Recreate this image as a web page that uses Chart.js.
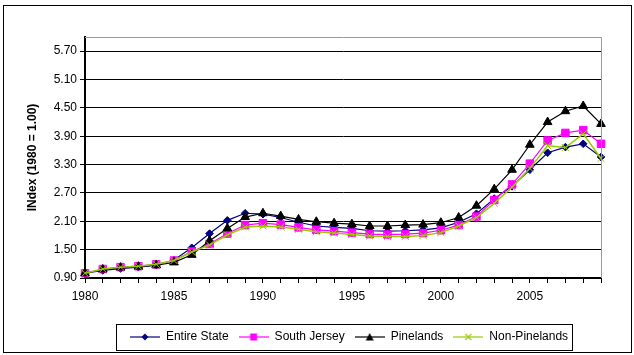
<!DOCTYPE html>
<html>
<head>
<meta charset="utf-8">
<script src="https://cdn.jsdelivr.net/npm/chart.js@4.4.1/dist/chart.umd.min.js"></script>
<style>
  html, body { margin: 0; padding: 0; background: #fff; }
  #wrap { position: relative; width: 634px; height: 355px; }
  #frame { position: absolute; left: 3px; top: 5px; width: 627px; height: 346px;
           border: 1px solid #000; pointer-events: none; }
</style>
</head>
<body>
<div id="wrap">
  <canvas id="c"></canvas>
  <div id="frame"></div>
</div>
<script>
/* NJ index chart, 1980 = 1.00 — four regions, Excel-style look */
var YEARS = [1980,1981,1982,1983,1984,1985,1986,1987,1988,1989,1990,1991,1992,1993,1994,
             1995,1996,1997,1998,1999,2000,2001,2002,2003,2004,2005,2006,2007,2008,2009];
var ENTIRE_STATE = [1.00,1.06,1.10,1.13,1.17,1.28,1.54,1.84,2.12,2.27,2.25,2.18,2.08,2.00,1.97,
                    1.95,1.90,1.89,1.90,1.92,1.96,2.08,2.26,2.58,2.84,3.19,3.55,3.67,3.74,3.46];
var SOUTH_JERSEY = [1.00,1.09,1.13,1.15,1.19,1.27,1.46,1.62,1.84,2.02,2.06,2.03,1.97,1.92,1.89,
                    1.86,1.83,1.82,1.83,1.85,1.91,2.02,2.20,2.55,2.88,3.32,3.81,3.97,4.03,3.74];
var PINELANDS    = [1.00,1.08,1.12,1.14,1.17,1.23,1.39,1.69,1.95,2.19,2.27,2.21,2.14,2.09,2.06,
                    2.04,2.00,2.00,2.02,2.03,2.07,2.18,2.43,2.78,3.19,3.72,4.20,4.43,4.54,4.16];
var NON_PINELANDS = [1.00,1.09,1.13,1.15,1.19,1.27,1.45,1.60,1.81,1.98,2.00,1.98,1.93,1.88,1.85,
                     1.82,1.79,1.78,1.78,1.80,1.86,2.00,2.18,2.48,2.82,3.22,3.70,3.66,3.95,3.43];
var Y_TICKS = [0.90,1.50,2.10,2.70,3.30,3.90,4.50,5.10,5.70];

var FONT = "'Liberation Sans', Arial, sans-serif";
var NAVY = '#000080', MAGENTA = '#FF00FF', BLACK = '#000000', LIME = '#99CC00';

// little legend swatch: line with the marker in the middle
function swatch(color, shape) {
  var cv = document.createElement('canvas');
  cv.width = 30; cv.height = 12;
  var g = cv.getContext('2d');
  g.strokeStyle = color; g.fillStyle = color; g.lineWidth = 1.2;
  g.beginPath(); g.moveTo(0, 6); g.lineTo(30, 6); g.stroke();
  g.beginPath();
  if (shape === 'diamond') { g.moveTo(15, 2.5); g.lineTo(18.5, 6); g.lineTo(15, 9.5); g.lineTo(11.5, 6); g.closePath(); g.fill(); }
  else if (shape === 'square') { g.rect(11.5, 2.5, 7, 7); g.fill(); }
  else if (shape === 'triangle') { g.moveTo(15, 2); g.lineTo(19, 9.5); g.lineTo(11, 9.5); g.closePath(); g.fill(); }
  else { g.lineWidth = 1.2; g.moveTo(12, 3); g.lineTo(18, 9); g.moveTo(18, 3); g.lineTo(12, 9); g.stroke(); }
  return cv;
}
var ICONS = [swatch(NAVY, 'diamond'), swatch(MAGENTA, 'square'), swatch(BLACK, 'triangle'), swatch(LIME, 'x')];

function series(label, data, color, style, radius, order, width) {
  return { label: label, data: data, borderColor: color, backgroundColor: color,
           borderWidth: width || 1.2, pointStyle: style, pointRadius: radius, pointHoverRadius: radius,
           pointBorderWidth: 1, pointBorderColor: color, pointBackgroundColor: color,
           tension: 0, fill: false, clip: false, order: order };
}

var framePlugin = {
  id: 'frame',
  afterLayout: function (chart) {
    var lg = chart.legend;
    lg.left += 6; lg.right += 6;
  },
  afterDraw: function (chart) {
    var a = chart.chartArea, ctx = chart.ctx, lg = chart.legend;
    ctx.save();
    ctx.strokeStyle = '#9a9a9a'; ctx.lineWidth = 1;
    ctx.beginPath();
    ctx.moveTo(a.left, a.top + 0.5); ctx.lineTo(a.right + 0.5, a.top + 0.5); ctx.lineTo(a.right + 0.5, a.bottom);
    ctx.stroke();
    // legend box
    var p = lg.options.labels.padding, lw = lg.lineWidths[0];
    var x0 = (lg.left + p + lg.right - lw) / 2;
    ctx.strokeStyle = '#000';
    ctx.strokeRect(Math.round(x0 - 14) + 0.5, lg.top + 3.5, Math.round(lw - p + 18), 26);
    ctx.restore();
  }
};

new Chart(document.getElementById('c').getContext('2d'), {
  type: 'line',
  data: {
    labels: YEARS,
    datasets: [
      series('Entire State', ENTIRE_STATE, NAVY, 'rectRot', 3.8, 4),
      series('South Jersey', SOUTH_JERSEY, MAGENTA, 'rect', 5.3, 3),
      series('Pinelands', PINELANDS, BLACK, 'triangle', 5, 2),
      series('Non-Pinelands', NON_PINELANDS, LIME, 'crossRot', 5, 1, 1.5)
    ]
  },
  options: {
    responsive: true, maintainAspectRatio: false, animation: false,
    layout: { padding: { top: 37, right: 33, left: 0, bottom: 2 } },
    plugins: {
      tooltip: { enabled: false },
      legend: {
        position: 'bottom', fullSize: false,
        labels: {
          font: { family: FONT, size: 12 }, color: '#000', padding: 10,
          usePointStyle: true, pointStyleWidth: 30,
          sort: function (a, b) { return a.datasetIndex - b.datasetIndex; },
          generateLabels: function (chart) {
            var items = Chart.defaults.plugins.legend.labels.generateLabels(chart);
            items.forEach(function (it) { it.pointStyle = ICONS[it.datasetIndex]; });
            return items;
          }
        }
      }
    },
    scales: {
      x: {
        type: 'category', offset: false,
        afterFit: function (s) { s.height = 43; },
        border: { display: true, color: '#000', width: 2 },
        grid: { display: true, offset: false, drawOnChartArea: false, drawTicks: true, tickLength: 5, color: '#000' },
        ticks: {
          autoSkip: false, maxRotation: 0, minRotation: 0, padding: 6,
          font: { family: FONT, size: 12 }, color: '#000',
          callback: function (v, i) { return YEARS[i] % 5 === 0 ? String(YEARS[i]) : ''; }
        }
      },
      y: {
        type: 'linear', min: 0.9, max: 6.0,
        afterFit: function (s) { s.width = 85; },
        afterBuildTicks: function (s) { s.ticks = Y_TICKS.map(function (v) { return { value: v }; }); },
        border: { display: true, color: '#000', width: 2 },
        grid: { color: '#000', lineWidth: 1, drawTicks: true, tickLength: 5 },
        ticks: { padding: 3, font: { family: FONT, size: 12 }, color: '#000',
                 callback: function (v) { return v.toFixed(2); } },
        title: { display: true, text: 'INdex (1980 = 1.00)', color: '#000',
                 font: { family: FONT, size: 12, weight: 'bold' }, padding: { top: 25, bottom: 0 } }
      }
    }
  },
  plugins: [framePlugin]
});
</script>
</body>
</html>
